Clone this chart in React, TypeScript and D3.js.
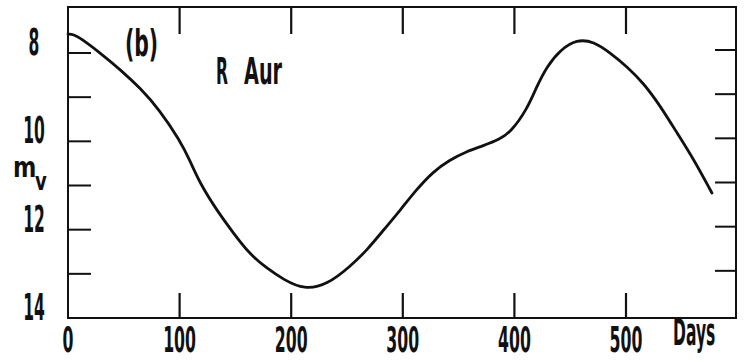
import React, { useEffect, useRef } from 'react';
import * as d3 from 'd3';

// light curve of R Aur (days, visual magnitude)
const days = [0, 5, 11, 29, 47, 65, 82, 100, 109, 118, 133, 148, 163, 178, 193, 212, 232, 253, 268, 283, 298, 312, 327, 342, 357, 372, 387, 397, 411, 420, 429, 441, 456, 471, 486, 501, 516, 531, 546, 561, 577];
const mags = [7.57, 7.58, 7.66, 8.0, 8.38, 8.8, 9.29, 9.97, 10.42, 10.94, 11.55, 12.07, 12.56, 12.87, 13.13, 13.36, 13.25, 12.83, 12.46, 12.0, 11.55, 11.1, 10.69, 10.42, 10.23, 10.1, 9.95, 9.78, 9.29, 8.76, 8.31, 7.93, 7.69, 7.74, 8.0, 8.31, 8.69, 9.21, 9.82, 10.42, 11.17];

const xTicks = [100, 200, 300, 400, 500];
const xLabels = [0, 100, 200, 300, 400, 500];
const yTicks = [8, 9, 10, 11, 12, 13];
const yLabels = [8, 10, 12, 14];

const W = 744;
const H = 362;
const FONT = '"DejaVu Sans", sans-serif';

const App: React.FC = () => {
  const svgRef = useRef<SVGSVGElement>(null);

  useEffect(() => {
    if (!svgRef.current) return;
    const svg = d3.select(svgRef.current);
    svg.selectAll('*').remove();

    const left = 68, right = 736, top = 7, bottom = 318;

    const x = d3.scaleLinear().domain([0, 500]).range([68, 626]);
    const y = d3.scaleLinear().domain([8, 14]).range([53, 318]);

    const ink = '#111';

    // frame
    svg.append('rect')
      .attr('x', left).attr('y', top)
      .attr('width', right - left).attr('height', bottom - top)
      .attr('fill', 'none').attr('stroke', ink).attr('stroke-width', 2);

    // x ticks, top and bottom
    xTicks.forEach(t => {
      svg.append('line')
        .attr('x1', x(t)).attr('x2', x(t))
        .attr('y1', top).attr('y2', top + 27)
        .attr('stroke', ink).attr('stroke-width', 2.2);
      svg.append('line')
        .attr('x1', x(t)).attr('x2', x(t))
        .attr('y1', bottom).attr('y2', bottom - 25)
        .attr('stroke', ink).attr('stroke-width', 2.2);
    });

    // y ticks, left and right
    yTicks.forEach(t => {
      svg.append('line')
        .attr('x1', left).attr('x2', left + 23)
        .attr('y1', y(t)).attr('y2', y(t))
        .attr('stroke', ink).attr('stroke-width', 2);
      svg.append('line')
        .attr('x1', right).attr('x2', right - 21)
        .attr('y1', y(t) - 3).attr('y2', y(t) - 3)
        .attr('stroke', ink).attr('stroke-width', 2);
    });

    const label = (tx: number, ty: number, s: string, size = 37, anchor = 'middle', sx = 0.42) =>
      svg.append('text')
        .attr('transform', `translate(${tx},${ty}) scale(${sx},1)`)
        .attr('text-anchor', anchor)
        .style('font-family', FONT)
        .style('font-weight', 'bold')
        .style('font-size', `${size}px`)
        .style('fill', ink)
        .text(s);

    xLabels.forEach(t => label(x(t), 352, String(t), 35, 'middle', 0.45));
    label(673, 345, 'Days', 37, 'start');
    yLabels.forEach(t => label(34, y(t) + 2, String(t)));

    // m_v
    label(13, 177, 'm', 28, 'start', 0.8);
    label(35, 190, 'v', 24, 'start', 0.75);

    label(125, 56, '(b)', 37, 'start', 0.55);
    label(216, 84, 'R', 37, 'start');
    label(244, 84, 'Aur', 37, 'start', 0.52);

    const line = d3.line<number>()
      .x((_, i) => x(days[i]))
      .y((_, i) => y(mags[i]))
      .curve(d3.curveBasis);

    svg.append('path')
      .datum(mags)
      .attr('d', line)
      .attr('fill', 'none')
      .attr('stroke', ink)
      .attr('stroke-width', 2.8)
      .attr('stroke-linecap', 'round');
  }, []);

  return (
    <svg
      ref={svgRef}
      width={W}
      height={H}
      style={{ position: 'absolute', left: 0, top: 0, background: '#fff' }}
    />
  );
};

export default App;
